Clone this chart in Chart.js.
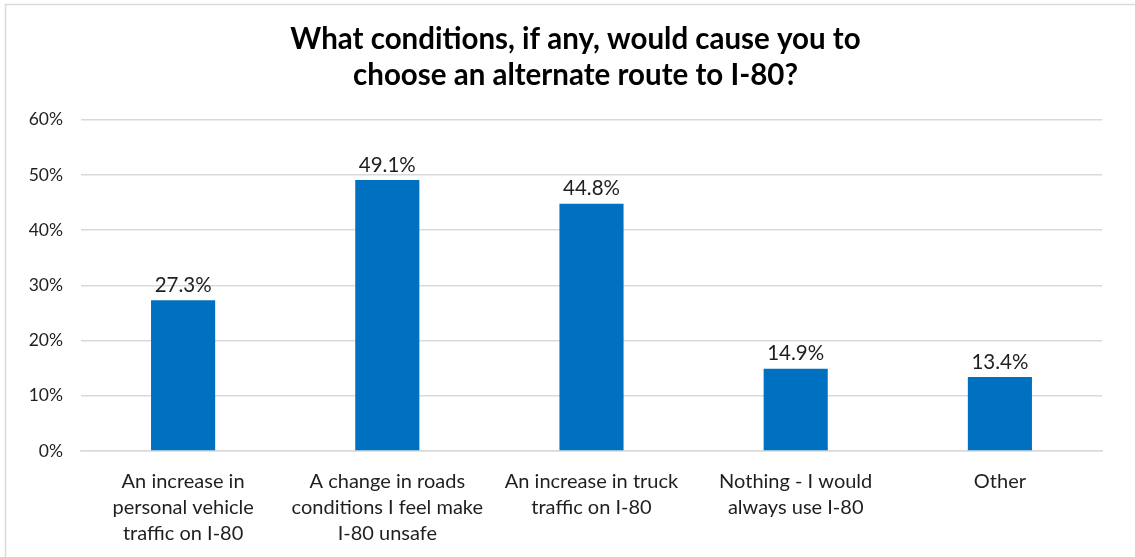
<!DOCTYPE html>
<html>
<head>
<meta charset="utf-8">
<script src="https://cdn.jsdelivr.net/npm/chart.js@4/dist/chart.umd.min.js"></script>
<style>
  html, body { margin: 0; padding: 0; background: #fff; }
  #wrap { width: 1135px; height: 557px; position: relative; }
</style>
</head>
<body>
<div id="wrap"><canvas id="chart" width="1135" height="557"></canvas></div>
<script>
const categories = [
    ["An increase in", "personal vehicle", "traffic on I-80"],
    ["A change in roads", "conditions I feel make", "I-80 unsafe"],
    ["An increase in truck", "traffic on I-80"],
    ["Nothing - I would", "always use I-80"],
    ["Other"]
];
const percentages = [27.3, 49.1, 44.8, 14.9, 13.4];
const yTicks = [0, 10, 20, 30, 40, 50, 60];
const titleLines = [
    "What conditions, if any, would cause you to",
    "choose an alternate route to I-80?"
];

const FONT = "Lato, 'Open Sans', sans-serif";
const TEXT = "#1f1f1f";

// value labels sitting above each bar
const valueLabels = {
    id: "valueLabels",
    afterDatasetsDraw(chart) {
        const ctx = chart.ctx;
        const meta = chart.getDatasetMeta(0);
        ctx.save();
        ctx.font = "20.5px " + FONT;
        ctx.fillStyle = TEXT;
        ctx.textAlign = "center";
        ctx.textBaseline = "middle";
        meta.data.forEach((bar, i) => {
            ctx.fillText(percentages[i].toFixed(1) + "%", bar.x, bar.y - 15);
        });
        ctx.restore();
    }
};

// thin frame round the chart
const frame = {
    id: "frame",
    beforeDraw(chart) {
        const ctx = chart.ctx;
        ctx.save();
        ctx.strokeStyle = "#d9d9d9";
        ctx.lineWidth = 1.5;
        ctx.beginPath();
        ctx.moveTo(5.5, chart.height);
        ctx.lineTo(5.5, 4.5);
        ctx.lineTo(chart.width, 4.5);
        ctx.stroke();
        ctx.restore();
    }
};

new Chart(document.getElementById("chart"), {
    type: "bar",
    data: {
        labels: categories,
        datasets: [{
            data: percentages,
            backgroundColor: "#0070C0",
            borderWidth: 0,
            categoryPercentage: 1,
            barPercentage: 0.314
        }]
    },
    options: {
        responsive: false,
        animation: false,
        layout: { padding: { left: 16, right: 0, top: 0, bottom: 0 } },
        plugins: {
            legend: { display: false },
            tooltip: { enabled: false },
            title: {
                display: true,
                text: titleLines,
                color: "#000",
                font: { family: FONT, size: 29.5, weight: "bold", lineHeight: 1.2 },
                padding: { top: 22, bottom: 27 }
            }
        },
        scales: {
            y: {
                min: 0,
                max: 60,
                afterFit(scale) { scale.width = 65; },
                afterBuildTicks(scale) { scale.ticks = yTicks.map(v => ({ value: v })); },
                border: { display: false },
                grid: { color: "#d9d9d9", lineWidth: 1.5, drawTicks: false },
                ticks: {
                    padding: 18,
                    color: TEXT,
                    font: { family: FONT, size: 17.5 },
                    callback: v => v + "%"
                }
            },
            // empty right-hand margin
            yRight: {
                position: "right",
                min: 0,
                max: 60,
                afterFit(scale) { scale.width = 33; },
                border: { display: false },
                grid: { display: false, drawTicks: false },
                ticks: { display: false }
            },
            x: {
                afterFit(scale) { scale.height = 106; },
                border: { display: true, color: "#d9d9d9", width: 1.5 },
                grid: { display: false, drawTicks: false },
                ticks: {
                    padding: 18,
                    maxRotation: 0,
                    autoSkip: false,
                    color: TEXT,
                    font: { family: FONT, size: 20, lineHeight: 1.3 }
                }
            }
        }
    },
    plugins: [frame, valueLabels]
});
</script>
</body>
</html>
